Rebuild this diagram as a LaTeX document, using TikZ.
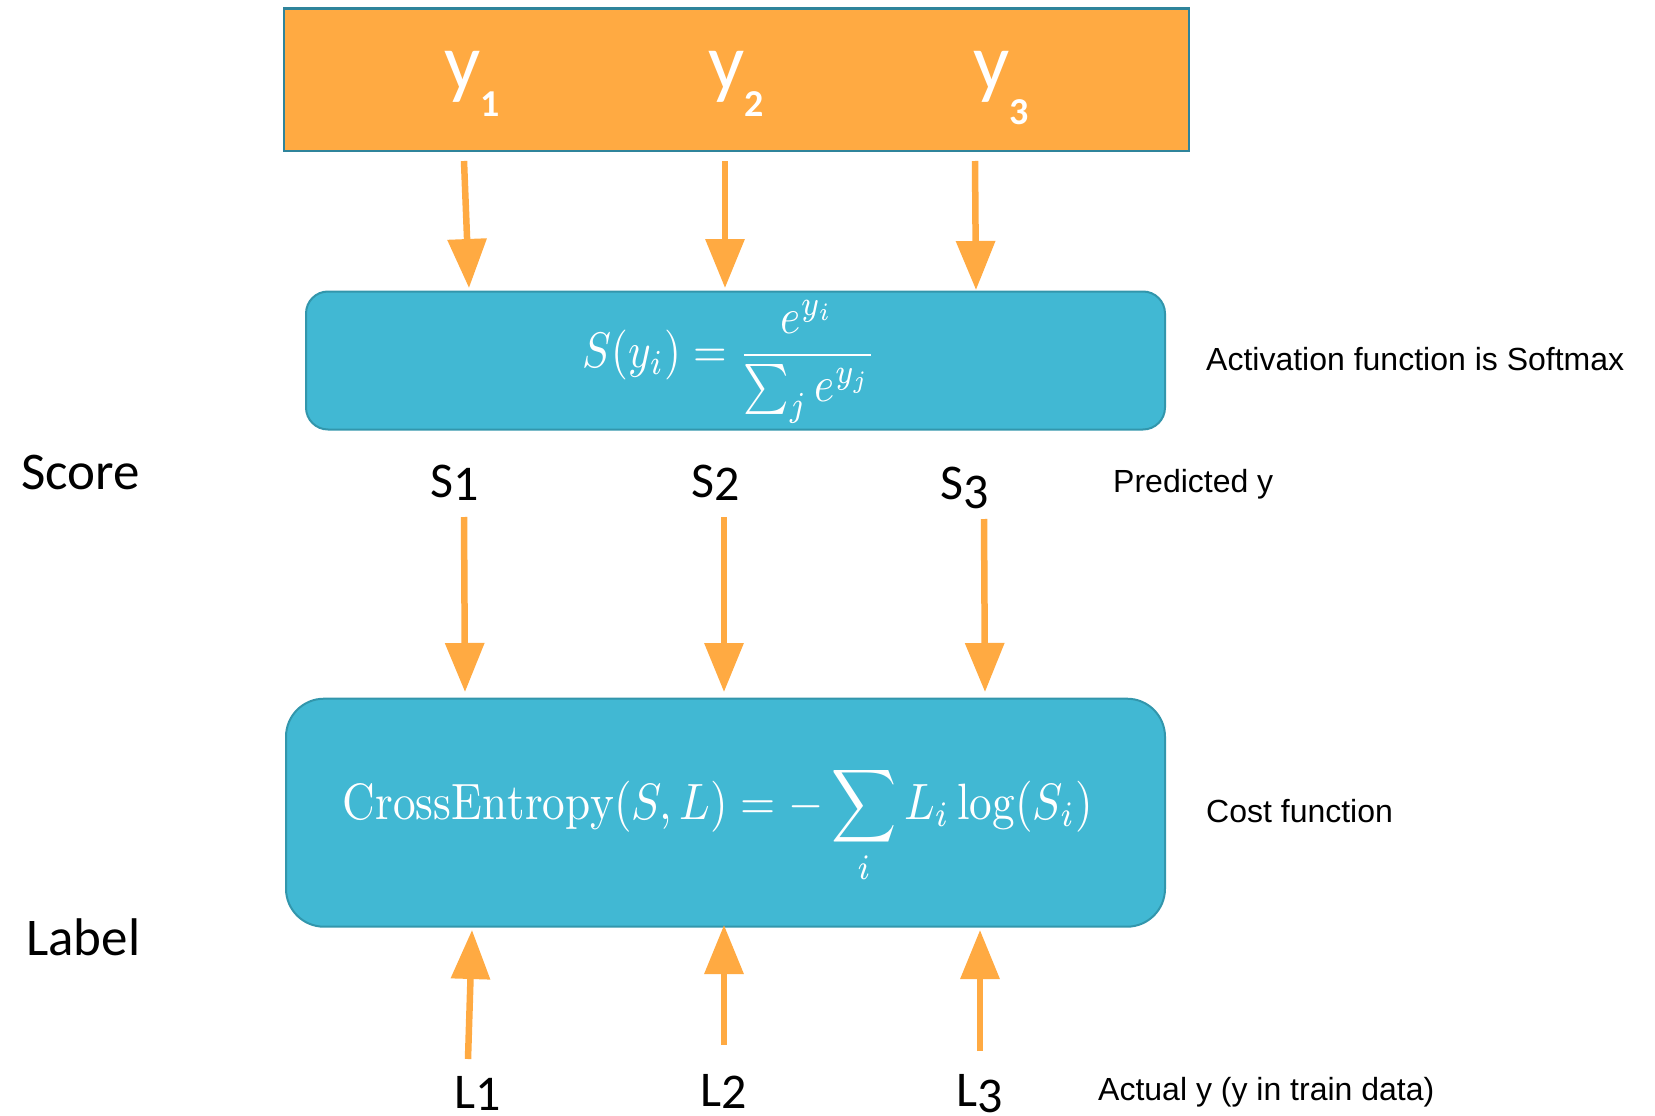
\documentclass[tikz,border=0pt]{standalone}
\usepackage{amsmath}
\usepackage{fontspec}
\usetikzlibrary{arrows.meta}
\newfontfamily\carl{Carlito}
\newfontfamily\arial{Liberation Sans}
\definecolor{orng}{RGB}{255,170,66}
\definecolor{boxblue}{RGB}{65,184,211}
\definecolor{boxedge}{RGB}{50,150,172}
\definecolor{topedge}{RGB}{47,132,155}
\tikzset{
  arr/.style={draw=orng, line width=6.5pt, -{Triangle[length=49pt,width=38pt]}},
  ylab/.style={inner sep=0pt, anchor=base, text=white, font=\carl\fontsize{80}{90}\selectfont},
  slab/.style={inner sep=0pt, anchor=base, text=black, font=\carl\fontsize{50}{60}\selectfont},
  side/.style={inner sep=0pt, anchor=base west, text=black, font=\carl\fontsize{53}{60}\selectfont},
  note/.style={inner sep=0pt, anchor=base west, text=black, font=\arial\fontsize{32}{38}\selectfont},
  bluebox/.style={draw=boxedge, fill=boxblue, line width=2pt},
  mathtxt/.style={inner sep=0pt, text=white}
}
\newcommand{\subd}[2]{\raisebox{#1}{\fontsize{38}{40}\bfseries\selectfont #2}}
\begin{document}
\begin{tikzpicture}[x=1pt,y=-1pt]
\useasboundingbox (0,0) rectangle (1655,1116);
% top orange box
\node[draw=topedge, fill=orng, line width=2.5pt, minimum width=905pt, minimum height=142.6pt, inner sep=0pt] (ybox) at (736.5,79.7) {};
\node[ylab] (y1) at (472,89) {y\subd{-28pt}{1}};
\node[ylab] (y2) at (736,89) {y\subd{-28pt}{2}};
\node[ylab] (y3) at (1001,89) {y\subd{-35pt}{3}};
% softmax box
\node[bluebox, rounded corners=22pt, minimum width=859pt, minimum height=138pt, inner sep=0pt] (smax) at (735.5,360.5) {};
\node[mathtxt] (smaxf) at (729.5,362) {\resizebox*{293pt}{123pt}{$\displaystyle S(y_i)=\frac{e^{y_i}}{\textstyle\sum_j e^{y_j}}$}};
% cross entropy box
\node[bluebox, rounded corners=38pt, minimum width=879pt, minimum height=228pt, inner sep=0pt] (cent) at (725.5,812.7) {};
\node[mathtxt] (centf) at (718,825) {\resizebox*{750pt}{119pt}{$\displaystyle \mathrm{CrossEntropy}(S,L)=-\sum_i L_i\log(S_i)$}};
% labels
\node[side] (score) at (21,489) {Score};
\node[side] (label) at (26,955) {Label};
\node[slab] (s1) at (455,497) {S\raisebox{-3pt}{1}};
\node[slab] (s2) at (716,497) {S\raisebox{-3pt}{2}};
\node[slab] (s3) at (965,499) {S\raisebox{-9pt}{3}};
\node[slab] (l1) at (478,1108) {L\raisebox{-2pt}{1}};
\node[slab] (l2) at (724,1106) {L\raisebox{-2pt}{2}};
\node[slab] (l3) at (980,1106) {L\raisebox{-6pt}{3}};
\node[note] (act) at (1206,370) {Activation function is Softmax};
\node[note] (pred) at (1113,492) {Predicted y};
\node[note] (cost) at (1206,822) {Cost function};
\node[note] (actual) at (1098,1100) {Actual y (y in train data)};
% arrow endpoints
\coordinate (ta1) at (464,161); \coordinate (tb1) at (469,288);
\coordinate (ta2) at (725,161); \coordinate (tb2) at (725,288);
\coordinate (ta3) at (975,161); \coordinate (tb3) at (976,290);
\coordinate (ma1) at (464,517); \coordinate (mb1) at (465,692);
\coordinate (ma2) at (724,517); \coordinate (mb2) at (724,692);
\coordinate (ma3) at (984,519); \coordinate (mb3) at (985,692);
\coordinate (ba1) at (468,1059); \coordinate (bb1) at (472,930);
\coordinate (ba2) at (724,1045); \coordinate (bb2) at (724,925);
\coordinate (ba3) at (980,1051); \coordinate (bb3) at (980,930);
\foreach \i in {1,2,3}{
  \draw[arr] (ta\i) -- (tb\i);
  \draw[arr] (ma\i) -- (mb\i);
  \draw[arr] (ba\i) -- (bb\i);
}
\end{tikzpicture}
\end{document}
